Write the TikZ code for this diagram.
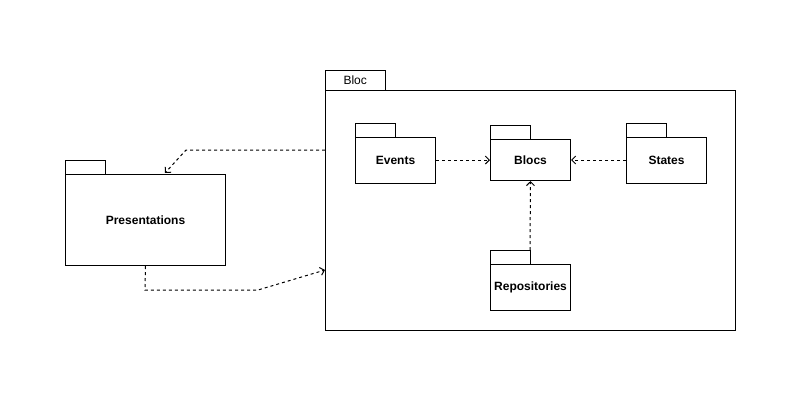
\documentclass[tikz,border=0pt]{standalone}
\usepackage{fontspec}
\setmainfont{Liberation Sans}
\usetikzlibrary{arrows.meta}
\usetikzlibrary{positioning}
\tikzset{
  pkg/.style={draw, line width=1bp, anchor=north west, inner sep=0pt, font=\fontsize{12bp}{14bp}\selectfont\bfseries},
  pkgtab/.style={line width=1bp},
  dep/.style={line width=1bp, dash pattern=on 3bp off 3bp, -{Straight Barb[length=4bp,width=8bp]}}
}

\begin{document}
\begin{tikzpicture}[x=1bp, y=-1bp]
            \useasboundingbox (0,0) rectangle (800,400);
            % outer package
            \node[pkg, minimum width=410bp, minimum height=240bp] (bloc) at (325,90) {};
            \draw[pkgtab] (bloc.north west) -- ++(0,-20) -- ++(60,0) -- ++(0,20);
            \node[anchor=west, font=\fontsize{12bp}{14bp}\selectfont] at (340,80) {Bloc};
            % inner packages
            \node[pkg, minimum width=80bp, minimum height=46bp] (events) at (355,137) {Events};
            \draw[pkgtab] (events.north west) -- ++(0,-14) -- ++(40,0) -- ++(0,14);
            \node[pkg, minimum width=80bp, minimum height=41bp] (blocs) at (490,139) {Blocs};
            \draw[pkgtab] (blocs.north west) -- ++(0,-14) -- ++(40,0) -- ++(0,14);
            \node[pkg, minimum width=80bp, minimum height=46bp] (states) at (626,137) {States};
            \draw[pkgtab] (states.north west) -- ++(0,-14) -- ++(40,0) -- ++(0,14);
            \node[pkg, minimum width=80bp, minimum height=46bp] (repos) at (490,264) {Repositories};
            \draw[pkgtab] (repos.north west) -- ++(0,-14) -- ++(40,0) coordinate (repostab) -- ++(0,14);
            % left package
            \node[pkg, minimum width=160bp, minimum height=91bp] (pres) at (65,174) {Presentations};
            \draw[pkgtab] (pres.north west) -- ++(0,-14) -- ++(40,0) -- ++(0,14);
            % dependencies
            \coordinate (blocout) at (325,150);
            \coordinate (blocin) at (325,270);
            \draw[dep] (events.east |- blocs.west) -- (blocs.west);
            \draw[dep] (states.west |- blocs.east) -- (blocs.east);
            \draw[dep] (repostab) -- (blocs.south);
            \draw[dep] (blocout) -- (186,150) -- (165,173);
            \draw[dep] (pres.south) -- (145,290) -- (258,290) -- (blocin);
        \end{tikzpicture}
\end{document}
